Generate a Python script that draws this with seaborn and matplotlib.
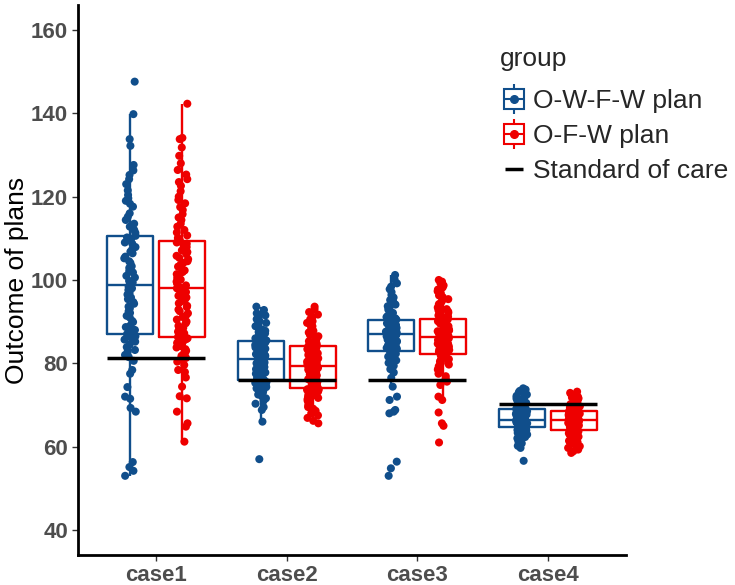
import numpy as np
import pandas as pd
import matplotlib
matplotlib.use("Agg")
import matplotlib.pyplot as plt
from matplotlib.lines import Line2D
import seaborn as sns

cases = ["case1", "case2", "case3", "case4"]
groups = ["O-W-F-W plan", "O-F-W plan"]
colors = ["#104E8B", "#EE0000"]
standard_of_care = [81.3, 76.0, 76.0, 70.2]

# outcome of each plan
owfw_case1 = [53.0, 54.2, 55.1, 56.3, 68.4, 69.3, 71.5, 72.0, 74.3, 77.5, 78.4, 80.6, 81.5, 82.0, 82.8,
              83.2, 83.9, 84.5, 85.2, 85.7, 86.1, 86.5,
              87.0, 87.6, 88.0, 88.7, 89.1, 89.9, 90.2, 91.0, 91.4, 92.1, 92.5, 93.2, 93.6, 94.3, 94.7,
              95.4, 95.8, 96.5, 96.9, 97.6, 98.0, 98.4,
              98.8, 99.4, 99.8, 100.6, 101.0, 101.8, 102.1, 102.9, 103.3, 104.1, 104.5, 105.2, 105.6,
              106.4, 106.8, 107.5, 107.9, 108.7, 109.0, 109.6, 109.9, 110.2,
              110.6, 111.3, 112.0, 112.8, 113.5, 114.4, 115.2, 116.0, 117.6, 118.3, 119.0, 119.6, 120.4,
              121.5, 123.0, 124.2, 125.2, 126.3, 127.6, 132.2, 133.8, 139.8, 147.6]
ofw_case1 = [61.2, 64.8, 65.6, 68.4, 71.6, 72.1, 74.4, 76.6, 77.9, 78.4, 79.6, 80.4, 81.0, 81.3, 81.8,
             82.2, 82.5, 83.0, 83.4, 83.8, 84.1, 84.5, 84.9, 85.2, 85.5, 85.8, 86.0,
             86.3, 86.7, 87.2, 87.6, 88.1, 88.5, 89.0, 89.6, 90.0, 90.5, 91.1, 91.4, 92.0, 92.5, 92.9,
             93.5, 93.8, 94.4, 94.9, 95.3, 95.8, 96.2, 96.7, 97.1, 97.4, 97.8, 98.0,
             98.3, 98.7, 99.2, 99.6, 100.1, 100.5, 101.0, 101.4, 101.9, 102.3, 102.8, 103.2, 103.6,
             104.1, 104.5, 105.0, 105.3, 105.8, 106.2, 106.7, 107.1, 107.5, 107.9, 108.3, 108.7,
             109.0, 109.3,
             109.6, 110.1, 110.7, 111.4, 112.0, 112.8, 113.5, 114.4, 115.0, 115.8, 116.8, 117.5, 118.4,
             119.2, 120.0, 121.3, 122.6, 123.5, 124.2, 125.3, 126.4, 128.0, 129.8, 131.8, 133.8, 134.1,
             142.3]
owfw_case2 = [57.0, 66.0, 68.8, 69.5, 70.3, 71.0, 71.6, 72.1, 72.5, 72.9, 73.3, 73.6, 74.0, 74.3, 74.6,
              74.9, 75.1, 75.3, 75.5, 75.7, 75.9,
              76.1, 76.4, 76.7, 77.0, 77.3, 77.5, 77.8, 78.0, 78.3, 78.6, 78.9, 79.1, 79.3, 79.6, 79.8,
              80.0, 80.2, 80.4, 80.6, 80.8, 80.9,
              81.1, 81.3, 81.5, 81.8, 82.0, 82.2, 82.4, 82.7, 82.9, 83.1, 83.3, 83.5, 83.8, 84.0, 84.2,
              84.4, 84.6, 84.8, 85.0, 85.2, 85.3,
              85.5, 85.8, 86.0, 86.3, 86.6, 86.9, 87.2, 87.5, 87.8, 88.1, 88.5, 88.9, 89.3, 89.7, 90.1,
              90.6, 91.0, 91.5, 92.0, 92.8, 93.6]
ofw_case2 = [65.6, 66.2, 66.9, 67.5, 68.0, 68.6, 69.1, 69.5, 69.9, 70.3, 70.7, 71.0, 71.4, 71.7, 72.0,
             72.3, 72.5, 72.8, 73.0, 73.2, 73.4, 73.6, 73.7, 73.8, 73.9,
             74.1, 74.3, 74.5, 74.8, 75.0, 75.2, 75.5, 75.7, 75.9, 76.2, 76.4, 76.6, 76.9, 77.1, 77.3,
             77.5, 77.7, 77.9, 78.1, 78.3, 78.5, 78.7, 78.9, 79.0, 79.2,
             79.4, 79.6, 79.8, 80.0, 80.2, 80.4, 80.6, 80.8, 81.0, 81.2, 81.4, 81.6, 81.8, 82.0, 82.2,
             82.4, 82.6, 82.8, 83.0, 83.2, 83.4, 83.6, 83.8, 83.9, 84.1,
             84.3, 84.5, 84.8, 85.0, 85.3, 85.6, 85.9, 86.2, 86.5, 86.8, 87.1, 87.4, 87.8, 88.1, 88.5,
             88.9, 89.3, 89.7, 90.1, 90.6, 91.1, 91.7, 92.3, 93.0, 93.6]
owfw_case3 = [53.0, 54.8, 56.4, 68.0, 68.4, 68.8, 71.2, 72.0, 74.4, 76.5, 77.8, 78.6, 79.4, 80.1, 80.7,
              81.2, 81.6, 82.0, 82.3, 82.6, 82.9,
              83.1, 83.3, 83.5, 83.7, 83.9, 84.1, 84.3, 84.5, 84.7, 84.9, 85.1, 85.3, 85.5, 85.7, 85.9,
              86.1, 86.3, 86.5, 86.7, 86.8, 86.9,
              87.1, 87.3, 87.4, 87.6, 87.8, 88.0, 88.1, 88.3, 88.5, 88.7, 88.9, 89.0, 89.2, 89.4, 89.6,
              89.7, 89.9, 90.0, 90.1, 90.2, 90.3,
              90.5, 90.8, 91.1, 91.4, 91.7, 92.1, 92.5, 92.9, 93.3, 93.7, 94.1, 94.6, 95.2, 95.8, 96.4,
              97.1, 97.8, 98.4, 99.2, 100.1, 101.2]
ofw_case3 = [61.0, 65.0, 65.6, 68.2, 71.2, 72.0, 74.8, 75.6, 76.3, 76.9, 77.5, 78.0, 78.5, 78.9, 79.3,
             79.7, 80.1, 80.4, 80.7, 81.0, 81.3, 81.5, 81.7, 81.9, 82.1,
             82.3, 82.5, 82.6, 82.8, 83.0, 83.2, 83.3, 83.5, 83.7, 83.8, 84.0, 84.2, 84.3, 84.5, 84.7,
             84.8, 85.0, 85.2, 85.3, 85.5, 85.6, 85.8, 85.9, 86.0, 86.1,
             86.3, 86.5, 86.7, 86.9, 87.1, 87.3, 87.5, 87.7, 87.9, 88.1, 88.3, 88.5, 88.7, 88.9, 89.1,
             89.3, 89.5, 89.6, 89.8, 89.9, 90.1, 90.2, 90.3, 90.4, 90.5,
             90.7, 90.9, 91.2, 91.5, 91.8, 92.1, 92.4, 92.7, 93.0, 93.4, 93.8, 94.2, 94.6, 95.0, 95.4,
             95.9, 96.3, 96.8, 97.3, 97.7, 98.2, 98.7, 99.2, 99.6, 100.0]
owfw_case4 = [56.6, 59.7, 60.2, 60.8, 61.3, 61.7, 62.0, 62.3, 62.6, 62.9, 63.1, 63.3, 63.5, 63.7, 63.9,
              64.0, 64.1, 64.2, 64.3, 64.4, 64.5,
              64.7, 64.8, 64.9, 65.0, 65.1, 65.2, 65.3, 65.4, 65.5, 65.6, 65.7, 65.8, 65.9, 66.0, 66.0,
              66.1, 66.1, 66.2, 66.2, 66.3, 66.3,
              66.5, 66.6, 66.8, 66.9, 67.1, 67.2, 67.4, 67.5, 67.7, 67.8, 68.0, 68.1, 68.3, 68.4, 68.5,
              68.6, 68.8, 68.9, 69.0, 69.1, 69.1,
              69.3, 69.5, 69.7, 69.9, 70.1, 70.3, 70.5, 70.7, 70.9, 71.1, 71.3, 71.5, 71.7, 71.9, 72.2,
              72.5, 72.8, 73.1, 73.4, 73.7, 74.0]
ofw_case4 = [58.5, 58.9, 59.3, 59.7, 60.1, 60.5, 60.8, 61.1, 61.4, 61.7, 62.0, 62.2, 62.4, 62.6, 62.8,
             63.0, 63.2, 63.3, 63.4, 63.5, 63.6, 63.7, 63.8, 63.9, 63.9,
             64.1, 64.2, 64.3, 64.4, 64.5, 64.6, 64.7, 64.8, 64.9, 65.0, 65.1, 65.2, 65.3, 65.4, 65.5,
             65.6, 65.7, 65.8, 65.9, 66.0, 66.0, 66.1, 66.2, 66.3, 66.3,
             66.5, 66.6, 66.7, 66.8, 66.9, 67.0, 67.1, 67.2, 67.3, 67.4, 67.5, 67.6, 67.7, 67.8, 67.9,
             68.0, 68.0, 68.1, 68.2, 68.3, 68.3, 68.4, 68.5, 68.5, 68.6,
             68.7, 68.8, 69.0, 69.1, 69.3, 69.4, 69.6, 69.7, 69.9, 70.0, 70.2, 70.3, 70.5, 70.6, 70.8,
             71.0, 71.2, 71.4, 71.6, 71.8, 72.0, 72.3, 72.6, 72.9, 73.2]

values = {
    ("case1", groups[0]): owfw_case1, ("case1", groups[1]): ofw_case1,
    ("case2", groups[0]): owfw_case2, ("case2", groups[1]): ofw_case2,
    ("case3", groups[0]): owfw_case3, ("case3", groups[1]): ofw_case3,
    ("case4", groups[0]): owfw_case4, ("case4", groups[1]): ofw_case4,
}
rows = []
for (case, grp), vals in values.items():
    for v in vals:
        rows.append((case, grp, v))
df = pd.DataFrame(rows, columns=["case", "group", "outcome"])

sns.set_style("ticks")
plt.rcParams["font.family"] = ["Liberation Sans", "DejaVu Sans"]

pal = dict(zip(groups, colors))
np.random.seed(7)

fig = plt.figure(figsize=(7.35, 5.85), dpi=100)
ax = fig.add_axes([0.106, 0.0513, 0.746, 0.9402])

sns.boxplot(data=df, x="case", y="outcome", hue="group", order=cases, hue_order=groups,
            palette=pal, fill=False, width=0.8, gap=0.12, linewidth=1.7,
            showfliers=False, showcaps=False, legend=False, ax=ax)
sns.stripplot(data=df, x="case", y="outcome", hue="group", order=cases, hue_order=groups,
              palette=pal, dodge=True, jitter=0.09, size=5.8, linewidth=0,
              legend=False, ax=ax, zorder=3)

# standard of care line across both boxes of each case
xpos = np.arange(len(cases))
ax.hlines(standard_of_care, xpos - 0.375, xpos + 0.375, color="black", lw=2.5, zorder=4)

ax.set_xlim(-0.6, len(cases) - 0.4)
ax.set_ylim(34, 166)
ax.set_yticks(range(40, 161, 20))
ax.set_xlabel("")
ax.set_ylabel("Outcome of plans", fontsize=19, color="black", labelpad=1.5)
ax.tick_params(axis="both", labelsize=16, colors="#333333", labelcolor="#4D4D4D",
               length=4, width=1, pad=3)
for lab in ax.get_xticklabels() + ax.get_yticklabels():
    lab.set_fontweight("bold")
sns.despine(ax=ax)
for side in ["left", "bottom"]:
    ax.spines[side].set_linewidth(2)
    ax.spines[side].set_color("black")

handles = []
for c in colors:
    whisk = Line2D([], [], marker="|", markersize=22, mew=1.5, color=c, linestyle="none")
    box = Line2D([], [], marker="s", markersize=14, mew=1.5, markeredgecolor=c,
                 markerfacecolor="white", linestyle="none")
    med = Line2D([], [], marker="_", markersize=14, mew=1.5, color=c, linestyle="none")
    dot = Line2D([], [], marker="o", markersize=5.5, color=c, linestyle="none")
    handles.append((whisk, box, med, dot))
handles.append(Line2D([], [], marker="_", markersize=13, mew=2.5, color="black", linestyle="none"))

fig.text(500 / 735, 1 - 66 / 585, "group", fontsize=19, ha="left", va="baseline")
leg = fig.legend(handles, groups + ["Standard of care"], loc="upper left",
                 bbox_to_anchor=(503 / 735, 1 - 89 / 585), frameon=False, fontsize=19,
                 borderpad=0, borderaxespad=0, handlelength=0.8, handletextpad=0.35,
                 labelspacing=0.42)

fig.savefig("out.png", dpi=100)
